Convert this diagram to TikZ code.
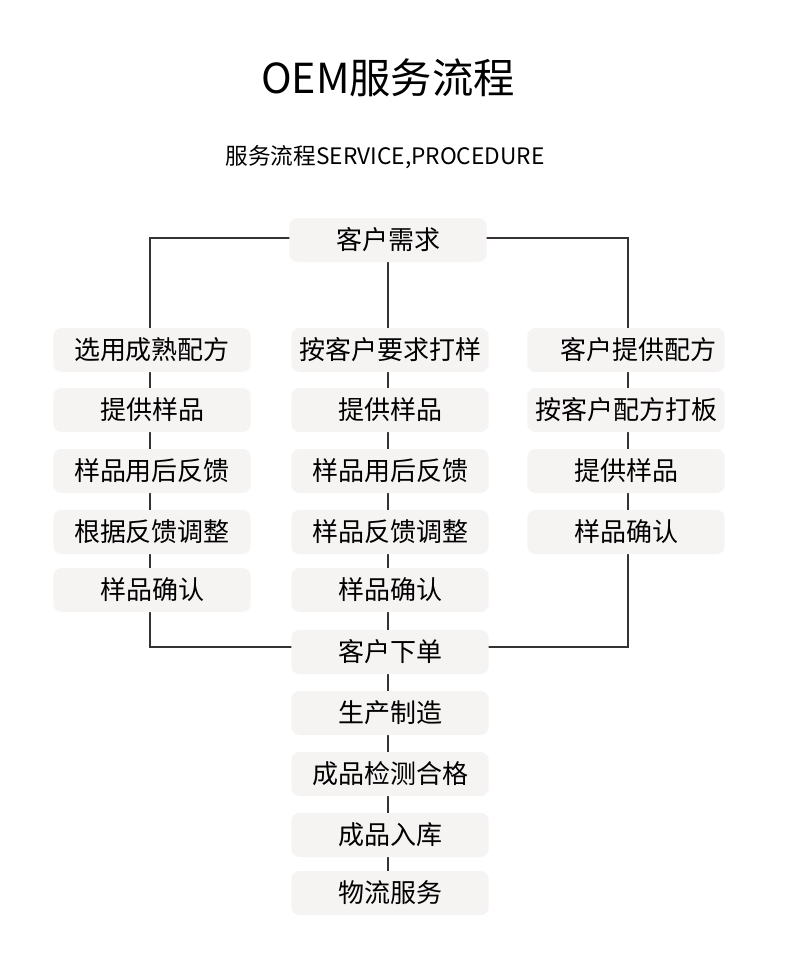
\documentclass[tikz,border=0pt]{standalone}
\usepackage{fontspec}
\setmainfont{Noto Sans CJK SC}
\definecolor{boxfill}{HTML}{F6F3F3}
\definecolor{linec}{HTML}{333333}
\begin{document}
\begin{tikzpicture}[x=0.75pt,y=-0.75pt,
  bx/.style={fill=boxfill,rounded corners=6pt,minimum width=148pt,minimum height=33pt,inner sep=0pt,font=\fontsize{19.5pt}{22pt}\selectfont,text=black},
  ln/.style={draw=linec,line width=0.8pt}]
\useasboundingbox (0,0) rectangle (790,961);
\fill[white] (0,0) rectangle (790,961);
\node (title) at (388,78) {\fontsize{31pt}{36pt}\selectfont OEM服务流程};
\node (sub) at (385,157) {\fontsize{17pt}{20pt}\selectfont 服务流程SERVICE,PROCEDURE};
% lines behind
\coordinate (lt) at (150,238); \coordinate (rt) at (628,238);
\coordinate (lb) at (150,647); \coordinate (rb) at (628,647);
\draw[ln] (388,240) -- (388,893);
\draw[ln] (388,238) -- (lt) -- (lb) -- (388,647);
\draw[ln] (388,238) -- (rt) -- (rb) -- (388,647);
\node[bx] (top) at (388,240) {客户需求};
\foreach \t/\y [count=\i] in {选用成熟配方/350,提供样品/410,样品用后反馈/471,根据反馈调整/532,样品确认/590}
  \node[bx] (l\i) at (152,\y) {\t};
\foreach \t/\y [count=\i] in {按客户要求打样/350,提供样品/410,样品用后反馈/471,样品反馈调整/532,样品确认/590,客户下单/652,生产制造/713,成品检测合格/774,成品入库/835,物流服务/893}
  \node[bx] (m\i) at (390,\y) {\t};
\foreach \t/\y [count=\i] in {\hspace{18pt}客户提供配方/350,按客户配方打板/410,提供样品/471,样品确认/532}
  \node[bx] (r\i) at (626,\y) {\t};
\end{tikzpicture}
\end{document}
